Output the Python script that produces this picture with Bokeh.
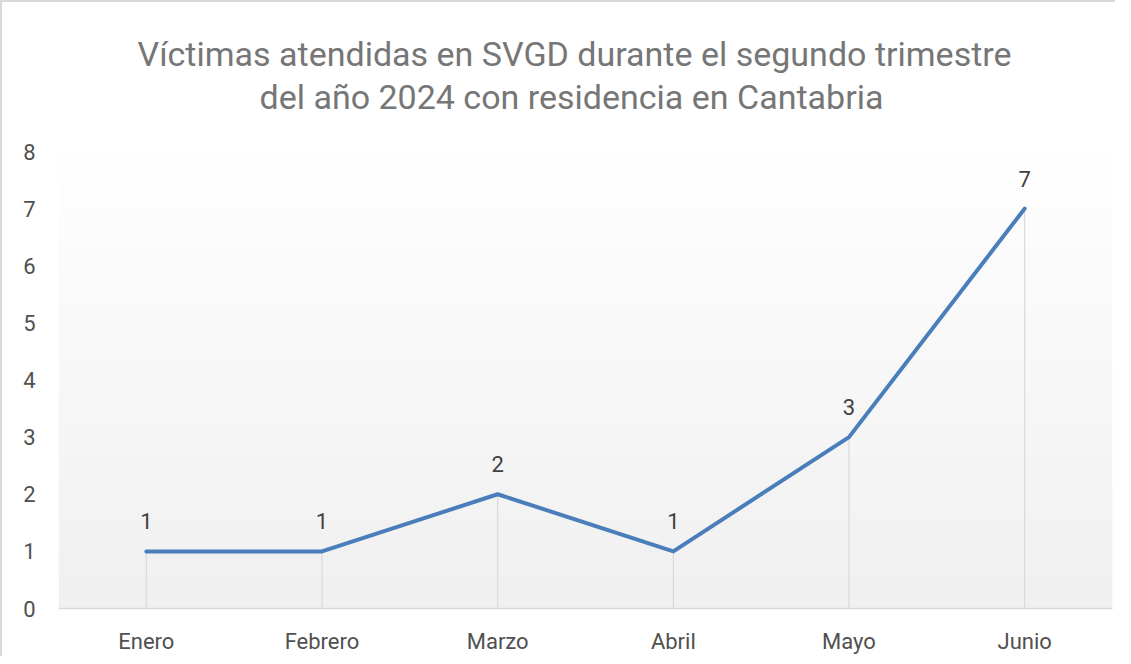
import numpy as np
from bokeh.plotting import figure
from bokeh.models import ColumnDataSource, LabelSet, Title, FixedTicker
from bokeh.core.properties import value
from bokeh.embed import file_html
from bokeh.resources import INLINE

months = ["Enero", "Febrero", "Marzo", "Abril", "Mayo", "Junio"]
victimas = [1, 1, 2, 1, 3, 7]
y_ticks = [0, 1, 2, 3, 4, 5, 6, 7, 8]
title_lines = ["Víctimas atendidas en SVGD durante el segundo trimestre",
               "del año 2024 con residencia en Cantabria"]

FONT = "Roboto"
W, H = 1115, 656

p = figure(x_range=months, y_range=(0, 8), width=W, height=H,
           output_backend="svg", toolbar_location=None,
           min_border_left=56, min_border_right=5, min_border_top=149,
           min_border_bottom=50,
           styles={"border-left": "2px solid #d9d9d9", "border-top": "2px solid #d9d9d9"})
p.outline_line_color = None
p.background_fill_color = "white"
p.border_fill_color = "white"
p.xgrid.grid_line_color = None
p.ygrid.grid_line_color = None

# vertical gradient background of plot area
n = 256
col = np.linspace(240, 255, n)  # bottom (row 0) -> top
img = np.zeros((n, 1), dtype=np.uint32)
view = img.view(dtype=np.uint8).reshape((n, 1, 4))
view[:, 0, 0] = col.astype(np.uint8)
view[:, 0, 1] = col.astype(np.uint8)
view[:, 0, 2] = col.astype(np.uint8)
view[:, 0, 3] = 255
p.image_rgba(image=[img], x=0, y=0, dw=len(months), dh=8, level="image")

src = ColumnDataSource(dict(m=months, v=victimas, z=[0] * len(months),
                            t=[str(v) for v in victimas]))

p.segment(x0="m", y0="z", x1="m", y1="v", source=src,
          line_color="#d9d9d9", line_width=1.2)
p.line(x="m", y="v", source=src, line_color="#4a7ebb", line_width=4,
       line_join="round", line_cap="round")

labels = LabelSet(x="m", y="v", text="t", source=src, y_offset=30,
                  text_align="center", text_baseline="middle",
                  text_font=value(FONT), text_font_size=value("22px"),
                  text_color=value("#404040"))
p.add_layout(labels)

# title (line 2 first: closest to the frame)
p.add_layout(Title(text=title_lines[1], align="left", standoff=69,
                   offset=201, text_font=FONT, text_font_size="34px",
                   text_font_style="normal", text_color="#767676"), "above")
p.add_layout(Title(text=title_lines[0], align="left", standoff=-66,
                   offset=79, text_font=FONT, text_font_size="34px",
                   text_font_style="normal", text_color="#767676"), "above")

# axes
p.yaxis.ticker = FixedTicker(ticks=y_ticks)
p.yaxis.axis_line_color = None
p.yaxis.major_tick_line_color = None
p.yaxis.minor_tick_line_color = None
p.yaxis.major_tick_out = 0
p.yaxis.major_tick_in = 0
p.yaxis.major_label_standoff = 23
p.yaxis.major_label_text_font = FONT
p.yaxis.major_label_text_font_size = "22px"
p.yaxis.major_label_text_color = "#505050"

p.xaxis.axis_line_color = "#d9d9d9"
p.xaxis.axis_line_width = 1.5
p.xaxis.major_tick_line_color = None
p.xaxis.major_tick_out = 0
p.xaxis.major_tick_in = 0
p.xaxis.major_label_standoff = 20
p.xaxis.major_label_text_font = FONT
p.xaxis.major_label_text_font_size = "22px"
p.xaxis.major_label_text_color = "#505050"

open("out.html", "w").write(file_html(p, INLINE))
